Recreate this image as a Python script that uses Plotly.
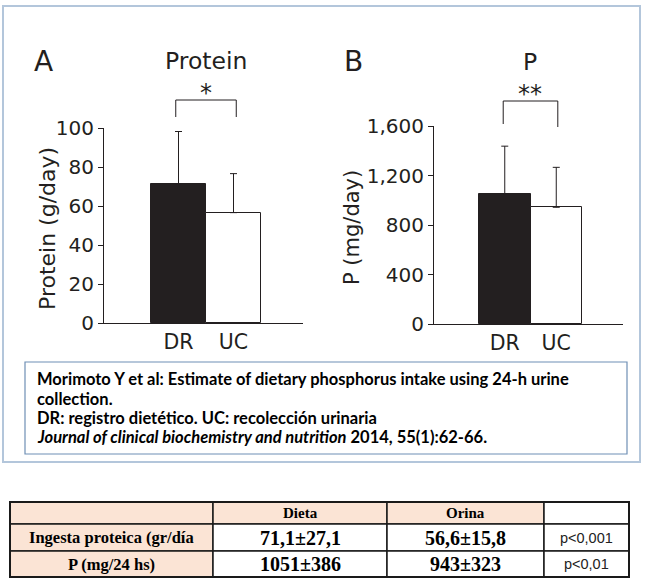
import plotly.graph_objects as go

W, H = 648, 586

# data
groups = ["DR", "UC"]
protein_mean = [71.1, 56.6]
protein_sd = [27.1, 20.0]
phos_mean = [1051, 943]
phos_sd = [386, 323]
protein_ticks = [0, 20, 40, 60, 80, 100]
phos_ticks = [0, 400, 800, 1200, 1600]

caption_lines = [
    "Morimoto Y et al: Estimate of dietary phosphorus intake using 24-h urine",
    "collection.",
    "DR: registro dietético. UC: recolección urinaria",
    "<i>Journal of clinical biochemistry and nutrition</i> 2014, 55(1):62-66.",
]

table_header = ["", "Dieta", "Orina", ""]
table_rows = ["Ingesta proteica (gr/día", "P (mg/24 hs)"]
table_dieta = ["71,1±27,1", "1051±386"]
table_orina = ["56,6±15,8", "943±323"]
table_p = ["p<0,001", "p<0,01"]


def px(x):
    return x / W


def py(y):
    return 1 - y / H


INK = "#231f20"
FONT = "DejaVu Sans"
PEACH = "#fbe4d5"

fig = go.Figure()

for mean, sd, xa, ya in [(protein_mean, protein_sd, "x", "y"),
                         (phos_mean, phos_sd, "x2", "y2")]:
    fig.add_trace(go.Bar(
        x=[0, 1], y=mean, width=1,
        marker=dict(color=[INK, "white"], line=dict(color=INK, width=1)),
        error_y=dict(type="data", symmetric=False, array=sd, arrayminus=[0, 0],
                     color=INK, thickness=1, width=3.5),
        xaxis=xa, yaxis=ya, showlegend=False, hoverinfo="y",
    ))

axis_common = dict(showgrid=False, zeroline=False, showline=True, linecolor=INK, linewidth=1,
                   automargin=False, fixedrange=True)

fig.update_layout(
    width=W, height=H, autosize=False,
    margin=dict(l=0, r=0, t=0, b=0, pad=0, autoexpand=False),
    paper_bgcolor="white", plot_bgcolor="white",
    font=dict(family=FONT, color=INK),
    bargap=0,
    xaxis=dict(domain=[px(104), px(303)], range=[-1.355, 2.264], tickvals=[0, 1], ticktext=groups,
               ticks="", tickfont=dict(size=20.5), anchor="y", **axis_common),
    yaxis=dict(domain=[py(323), py(128)], range=[0, 100], tickvals=protein_ticks, ticks="outside",
               ticklen=5, tickcolor=INK, tickfont=dict(size=20), anchor="x", **axis_common),
    xaxis2=dict(domain=[px(434), px(623)], range=[-1.374, 2.296], tickvals=[0, 1], ticktext=groups,
                ticks="", tickfont=dict(size=20.5), anchor="y2", **axis_common),
    yaxis2=dict(domain=[py(324), py(126)], range=[0, 1600], tickvals=phos_ticks, tickformat=",d",
                ticks="outside", ticklen=5, tickcolor=INK, tickfont=dict(size=20), anchor="x2",
                **axis_common),
)

# outer frame and caption box
fig.add_shape(type="rect", xref="paper", yref="paper", x0=px(3), x1=px(640), y0=py(462), y1=py(6),
              line=dict(color="#b3c6db", width=2))
fig.add_shape(type="rect", xref="paper", yref="paper", x0=px(25), x1=px(627), y0=py(454), y1=py(362),
              line=dict(color="#6f8fb5", width=1.2))

# significance brackets
for xa, x0, x1, ytop, yl, yr in [("x", -0.05, 1.05, 100, 117, 117), ("x2", -0.03, 1.03, 101, 124, 127)]:
    fig.add_shape(type="path", xref=xa, yref="paper",
                  path=f"M {x0},{py(yl)} L {x0},{py(ytop)} L {x1},{py(ytop)} L {x1},{py(yr)}",
                  line=dict(color=INK, width=1))

annotations = [
    dict(text="A", x=px(43), y=py(61), font=dict(size=28)),
    dict(text="B", x=px(353), y=py(61), font=dict(size=28)),
    dict(text="Protein", x=px(206), y=py(61), font=dict(size=23.5)),
    dict(text="P", x=px(530), y=py(62), font=dict(size=23.5)),
    dict(text="*", x=px(206), y=py(93), font=dict(size=24)),
    dict(text="**", x=px(530), y=py(94), font=dict(size=24)),
    dict(text="Protein (g/day)", x=px(48), y=py(229), textangle=-90, font=dict(size=22)),
    dict(text="P (mg/day)", x=px(352), y=py(228), textangle=-90, font=dict(size=21)),
]
for a in annotations:
    fig.add_annotation(xref="paper", yref="paper", showarrow=False, xanchor="center", yanchor="middle", **a)

for i, line in enumerate(caption_lines):
    fig.add_annotation(xref="paper", yref="paper", x=px(35), y=py(379 + 19.5 * i), showarrow=False,
                       xanchor="left", yanchor="middle", text=f"<b>{line}</b>",
                       font=dict(family="Lato", size=16.5, color="black"))

# table drawn as cells
col_x = [10, 213, 387, 544, 629]
row_y = [502, 524, 551, 577]
columns = [
    [table_header[0]] + table_rows,
    [table_header[1]] + table_dieta,
    [table_header[2]] + table_orina,
    [table_header[3]] + table_p,
]
for c in range(4):
    for r in range(3):
        fill = PEACH if (c == 0 or (r == 0 and c in (1, 2))) else "white"
        fig.add_shape(type="rect", xref="paper", yref="paper", layer="below",
                      x0=px(col_x[c]), x1=px(col_x[c + 1]), y0=py(row_y[r + 1]), y1=py(row_y[r]),
                      fillcolor=fill, line=dict(color="#1a1a1a", width=1.5))
        txt = columns[c][r]
        if not txt:
            continue
        if c == 3:
            fnt = dict(family="Liberation Sans", size=14.5, color="#222222")
        elif r == 0:
            fnt = dict(family="Liberation Serif", size=15, color="black")
            txt = f"<b>{txt}</b>"
        elif c == 0:
            fnt = dict(family="Liberation Serif", size=16.5, color="black")
            txt = f"<b>{txt}</b>"
        else:
            fnt = dict(family="Liberation Serif", size=20, color="black")
            txt = f"<b>{txt}</b>"
        fig.add_annotation(xref="paper", yref="paper", showarrow=False, xanchor="center", yanchor="middle",
                           x=px((col_x[c] + col_x[c + 1]) / 2), y=py((row_y[r] + row_y[r + 1]) / 2),
                           text=txt, font=fnt)
fig.add_shape(type="rect", xref="paper", yref="paper", x0=px(col_x[0]), x1=px(col_x[-1]),
              y0=py(row_y[-1]), y1=py(row_y[0]), line=dict(color="#1a1a1a", width=2))

fig.write_html("out.html", config={"displayModeBar": False},
               post_script="document.body.style.margin='0';")
